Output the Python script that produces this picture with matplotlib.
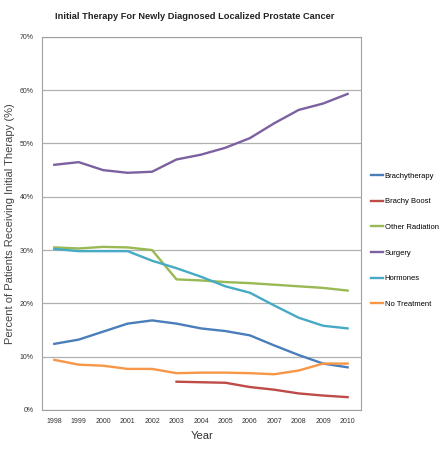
import numpy as np
from matplotlib import pyplot as plt
from matplotlib.ticker import FuncFormatter

plt.rcParams['font.family'] = ['Liberation Sans', 'DejaVu Sans']

years = np.arange(1998, 2011)
boost_years = np.arange(2003, 2011)

brachytherapy = [12.4, 13.2, 14.7, 16.2, 16.8, 16.2, 15.3, 14.8, 14.0, 12.1, 10.3, 8.7, 8.0]
brachy_boost = [5.3, 5.2, 5.1, 4.3, 3.8, 3.1, 2.7, 2.4]
other_radiation = [30.5, 30.3, 30.6, 30.5, 30.0, 24.5, 24.3, 24.0, 23.8, 23.5, 23.2, 22.9, 22.4]
surgery = [46.0, 46.5, 45.0, 44.5, 44.7, 47.0, 47.9, 49.2, 51.0, 53.8, 56.3, 57.5, 59.3]
hormones = [30.2, 29.8, 29.8, 29.8, 28.0, 26.6, 25.0, 23.2, 22.0, 19.6, 17.3, 15.8, 15.3]
no_treatment = [9.4, 8.5, 8.3, 7.7, 7.7, 6.9, 7.0, 7.0, 6.9, 6.7, 7.4, 8.7, 8.7]

fig = plt.figure(figsize=(4.43, 4.5), dpi=100, facecolor='w')
ax = fig.add_axes([0.095, 0.089, 0.72, 0.829])

ax.plot(years, brachytherapy, color='#4a7ebb', lw=1.7, label='Brachytherapy')
ax.plot(boost_years, brachy_boost, color='#be4b48', lw=1.7, label='Brachy Boost')
ax.plot(years, other_radiation, color='#98b954', lw=1.7, label='Other Radiation')
ax.plot(years, surgery, color='#7d60a0', lw=1.7, label='Surgery')
ax.plot(years, hormones, color='#46aac5', lw=1.7, label='Hormones')
ax.plot(years, no_treatment, color='#f79646', lw=1.7, label='No Treatment')

ax.set_xlim(1997.5, 2010.55)
ax.set_ylim(0, 70)
ax.set_xticks(years)
ax.set_yticks(range(0, 71, 10))
ax.yaxis.set_major_formatter(FuncFormatter(lambda v, p: '%d%%' % v))
ax.tick_params(length=0, labelsize=5, colors='#333333', pad=6)
ax.grid(axis='y', color='#b0b0b0', lw=0.9)
for s in ax.spines.values():
    s.set_color('#a0a0a0')

ax.set_title('Initial Therapy For Newly Diagnosed Localized Prostate Cancer',
             fontsize=6.7, fontweight='bold', x=0.48, y=1.025, color='#222222')
ax.set_xlabel('Year', fontsize=8, color='#333333', labelpad=4)
ax.set_ylabel('Percent of Patients Receiving Initial Therapy (%)',
              fontsize=8, color='#444444', labelpad=3)

ax.legend(loc='center left', bbox_to_anchor=(1.01, 0.455), frameon=False,
          fontsize=5.5, handlelength=1.6, handletextpad=0.2, labelspacing=2.4)

fig.savefig('out.png', dpi=100)
